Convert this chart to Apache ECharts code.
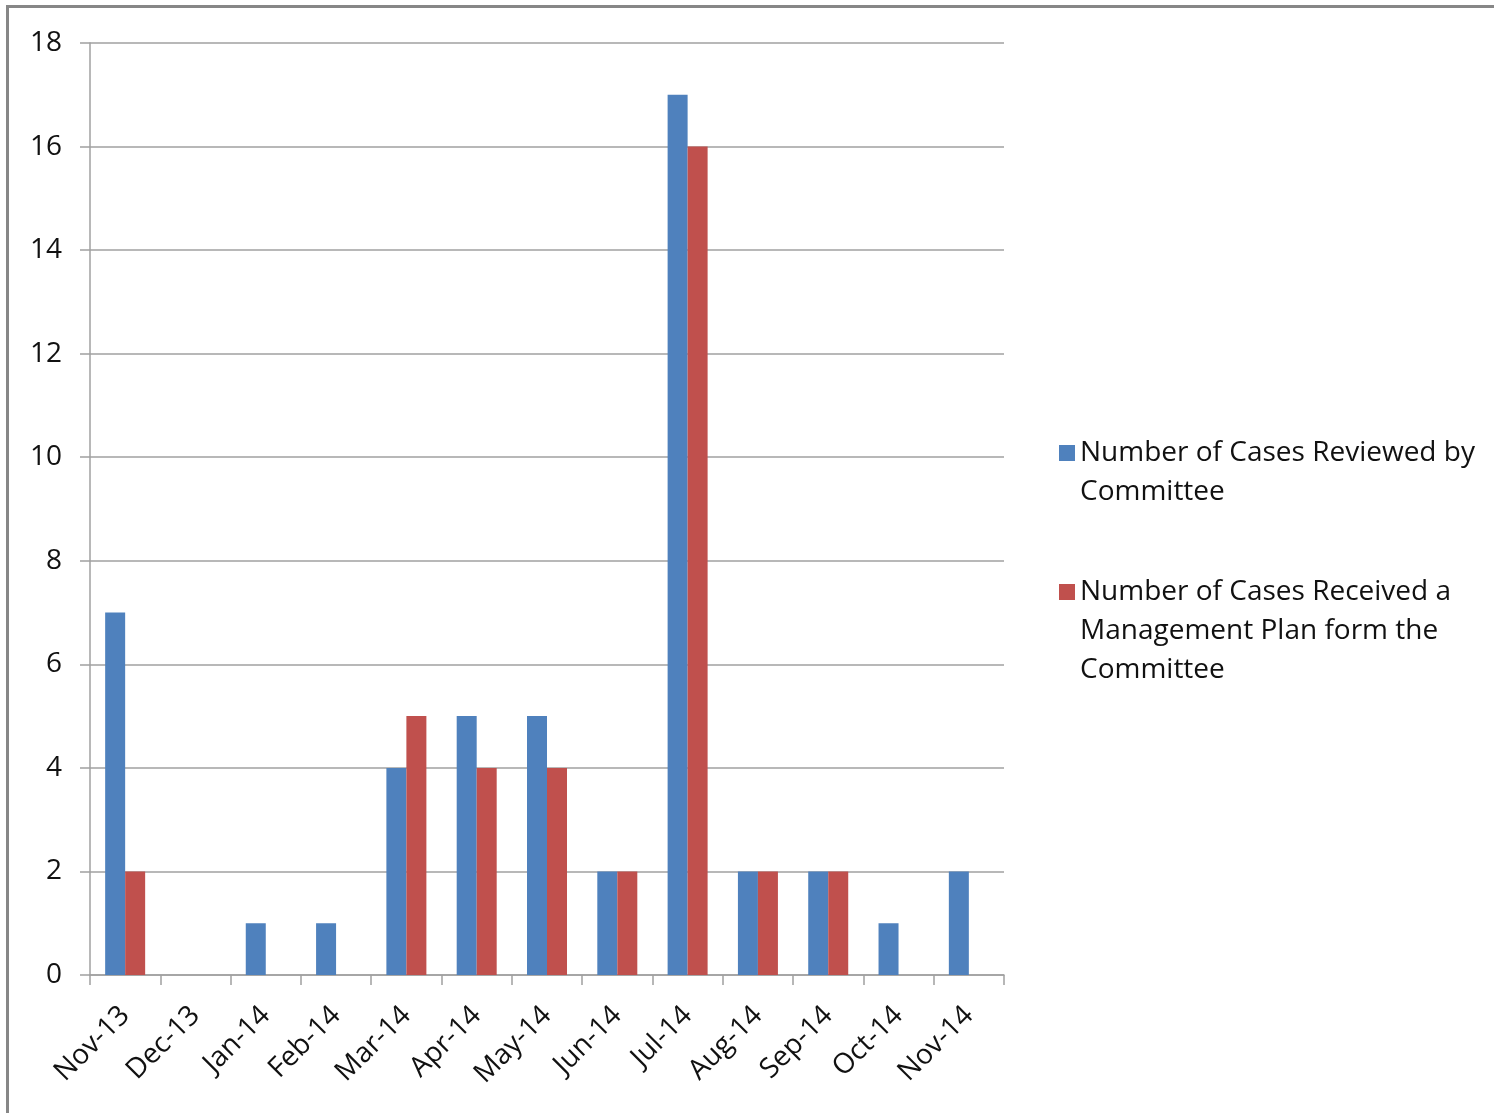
<!DOCTYPE html>
<html>
<head>
<meta charset="utf-8">
<script src="https://cdn.jsdelivr.net/npm/echarts@6/dist/echarts.min.js"></script>
<style>
html,body{margin:0;padding:0;background:#fff;}
#chart{width:1494px;height:1113px;}
</style>
</head>
<body>
<div id="chart"></div>
<script>
const categories = ['Nov-13','Dec-13','Jan-14','Feb-14','Mar-14','Apr-14','May-14','Jun-14','Jul-14','Aug-14','Sep-14','Oct-14','Nov-14'];
const reviewed = [7, 0, 1, 1, 4, 5, 5, 2, 17, 2, 2, 1, 2];
const management = [2, 0, 0, 0, 5, 4, 4, 2, 16, 2, 2, 0, 0];
const seriesNames = ['Number of Cases Reviewed by Committee', 'Number of Cases Received a Management Plan form the Committee'];
const legendLines = [
  ['Number of Cases Reviewed by', 'Committee'],
  ['Number of Cases Received a', 'Management Plan form the', 'Committee']
];
const yTicks = {min: 0, max: 18, interval: 2};

const FONT = 'Open Sans';
const FS = 28;
const LH = 39;

function legendFmt(idx) {
  const lines = legendLines[idx];
  const blanks = new Array(lines.length - 1).fill(' ');
  return blanks.concat(lines).join('\n');
}

const chart = echarts.init(document.getElementById('chart'), null, {renderer: 'canvas'});
chart.setOption({
  backgroundColor: '#fff',
  animation: false,
  color: ['#4F81BD', '#C0504D'],
  graphic: [{
    type: 'rect',
    shape: {x: 7.5, y: 6.5, width: 1600, height: 1300},
    style: {fill: 'none', stroke: '#878787', lineWidth: 3},
    silent: true
  }],
  grid: {left: 90, right: 490, top: 43, bottom: 138, containLabel: false},
  legend: [0, 1].map(i => ({
    data: [seriesNames[i]],
    orient: 'vertical',
    left: 1059,
    top: i === 0 ? 453 - (2 * legendLines[0].length - 1) * LH / 2 : 592 - (2 * legendLines[1].length - 1) * LH / 2,
    padding: 0,
    itemWidth: 16,
    itemHeight: 16,
    icon: 'rect',
    selectedMode: false,
    formatter: () => legendFmt(i),
    textStyle: {fontFamily: FONT, fontSize: FS, color: '#111', lineHeight: LH}
  })),
  xAxis: {
    type: 'category',
    data: categories,
    boundaryGap: true,
    axisLine: {lineStyle: {color: '#A0A0A0', width: 1.5}},
    axisTick: {show: true, alignWithLabel: false, length: 10, lineStyle: {color: '#A0A0A0', width: 1.5}},
    axisLabel: {interval: 0, rotate: 45, margin: 36, fontFamily: FONT, fontSize: FS, color: '#111'}
  },
  yAxis: {
    type: 'value',
    min: yTicks.min,
    max: yTicks.max,
    interval: yTicks.interval,
    axisLine: {show: true, lineStyle: {color: '#A0A0A0', width: 1.5}},
    axisTick: {show: true, length: 10, inside: false, lineStyle: {color: '#A0A0A0', width: 1.5}},
    axisLabel: {margin: 28, fontFamily: FONT, fontSize: FS, color: '#111'},
    splitLine: {show: true, lineStyle: {color: '#A0A0A0', width: 1.5}}
  },
  series: [
    {name: seriesNames[0], type: 'bar', data: reviewed, barWidth: 20, barGap: '0%', itemStyle: {color: '#4F81BD'}},
    {name: seriesNames[1], type: 'bar', data: management, barWidth: 20, barGap: '0%', itemStyle: {color: '#C0504D'}}
  ]
});
</script>
</body>
</html>
